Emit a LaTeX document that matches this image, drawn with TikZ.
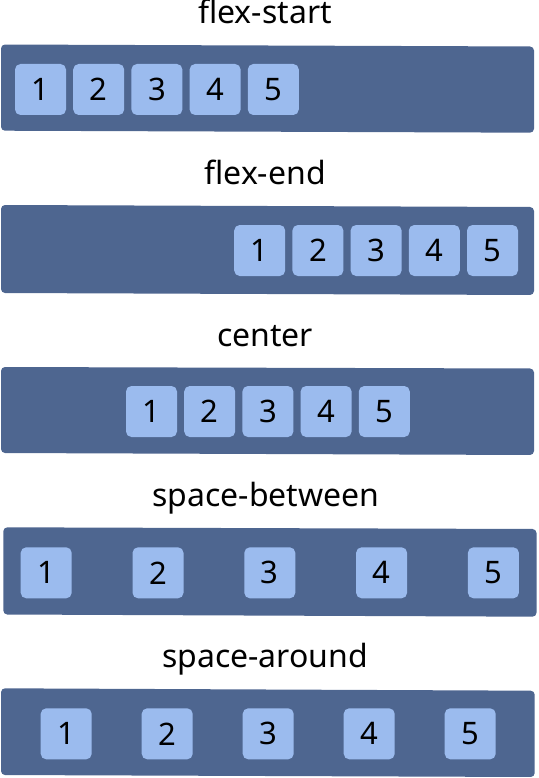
\documentclass[tikz,border=0pt]{standalone}
\usepackage{fontspec}
\setmainfont{Noto Sans}
\definecolor{barcol}{HTML}{4E6690}
\definecolor{itemcol}{HTML}{9BBBEE}
\begin{document}
\begin{tikzpicture}[x=1pt,y=-1pt,
  bar/.style={fill=barcol,rounded corners=4pt},
  item/.style={fill=itemcol,rounded corners=5.5pt,minimum width=51pt,minimum height=51pt,inner sep=0pt,font=\fontsize{31}{32}\selectfont,text=black},
  title/.style={anchor=base,font=\fontsize{32}{33}\selectfont,text=black,inner sep=0pt}]
\useasboundingbox (0,0) rectangle (538,778);
% titles
\node[title] (t1) at (265,24) {flex-start};
\node[title] (t2) at (265,185) {flex-end};
\node[title] (t3) at (265,346) {center};
\node[title] (t4) at (266,506) {space-between};
\node[title] (t5) at (265,667) {space-around};
% bars (slightly tilted)
\path[bar] (1,44.5) -- (534,46.5) -- (534,132.7) -- (1,130.7) -- cycle;
\path[bar] (1,205) -- (534,207) -- (534,295) -- (1,293) -- cycle;
\path[bar] (1,367) -- (534,368.5) -- (534,455) -- (1,453) -- cycle;
\path[bar] (3.3,527.3) -- (536.5,529) -- (536.5,616.7) -- (3.3,614.5) -- cycle;
\path[bar] (1,688.3) -- (534.7,690.7) -- (534.7,777) -- (1,775) -- cycle;
% items
\foreach \i in {1,...,5}{
  \node[item] (a\i) at ({15+25.5+58.2*(\i-1)},89.5) {\i};
  \node[item] (b\i) at ({467+25.5-58.2*(5-\i)},250.5) {\i};
  \node[item] (c\i) at ({126+25.5+58.2*(\i-1)},411.5) {\i};
  \node[item] (d\i) at ({20.7+25.5+111.8*(\i-1)},572.8) {\i};
  \node[item] (e\i) at ({40.7+25.5+101*(\i-1)},733.8) {\i};
}
\end{tikzpicture}
\end{document}
